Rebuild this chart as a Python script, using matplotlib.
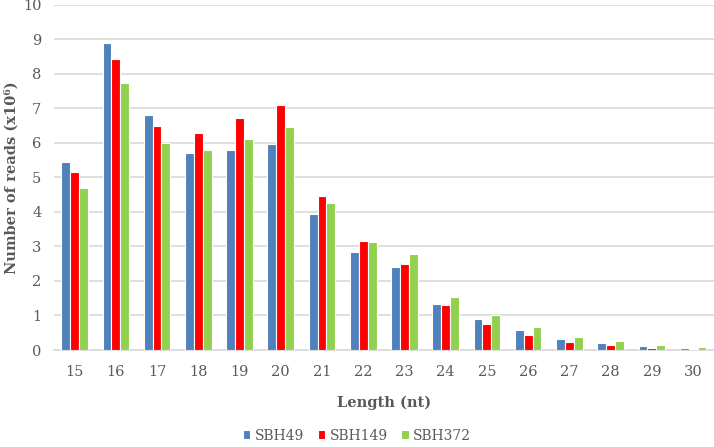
import matplotlib
matplotlib.use('Agg')
import matplotlib.pyplot as plt
import numpy as np

lengths = [15, 16, 17, 18, 19, 20, 21, 22, 23, 24, 25, 26, 27, 28, 29, 30]
sbh49 = [5.44, 8.89, 6.81, 5.71, 5.80, 5.97, 3.93, 2.85, 2.40, 1.33, 0.89, 0.58, 0.32, 0.19, 0.12, 0.06]
sbh149 = [5.16, 8.44, 6.50, 6.30, 6.72, 7.10, 4.45, 3.16, 2.49, 1.30, 0.75, 0.43, 0.22, 0.14, 0.07, 0.04]
sbh372 = [4.70, 7.73, 6.00, 5.80, 6.12, 6.46, 4.26, 3.13, 2.79, 1.54, 1.01, 0.67, 0.39, 0.27, 0.14, 0.09]

series = [('SBH49', sbh49, '#4F81BD'), ('SBH149', sbh149, '#FF0000'), ('SBH372', sbh372, '#92D050')]

plt.rcParams['font.family'] = ['DejaVu Serif']
grey = '#595959'

fig = plt.figure(figsize=(7.14, 4.47), dpi=100)
ax = fig.add_axes([0.0756, 0.217, 0.924, 0.772])

x = np.arange(len(lengths))
w = 0.215
for i, (name, vals, col) in enumerate(series):
    ax.bar(x + (i - 1) * w, vals, width=w, color=col, edgecolor='white', linewidth=0.8, label=name, zorder=3)

ax.set_xlim(-0.5, len(lengths) - 0.5)
ax.set_ylim(0, 10)
ax.set_yticks(range(0, 11))
ax.set_xticks(x)
ax.set_xticklabels([str(v) for v in lengths])
ax.tick_params(length=0, labelsize=10.5, colors=grey)
ax.tick_params(axis='x', pad=11)
ax.tick_params(axis='y', pad=9)
ax.grid(axis='y', color='#D9D9D9', linewidth=1.2, zorder=0)
for s in ['top', 'right', 'left']:
    ax.spines[s].set_visible(False)
ax.spines['bottom'].set_color('#D9D9D9')
ax.spines['bottom'].set_linewidth(1.2)

ax.set_ylabel('Number of reads (x10\u2076)', fontsize=10.5, fontweight='bold', color=grey)
ax.yaxis.set_label_coords(-0.054, 0.5)
ax.set_xlabel('Length (nt)', fontsize=10.5, fontweight='bold', color=grey, labelpad=12)

leg = fig.legend(loc='lower center', bbox_to_anchor=(0.5, -0.018), ncol=3, frameon=False,
                 fontsize=10, handlelength=0.55, handleheight=0.55, handletextpad=0.3, columnspacing=1.0)
for t in leg.get_texts():
    t.set_color(grey)

fig.savefig('out.png', dpi=100)
